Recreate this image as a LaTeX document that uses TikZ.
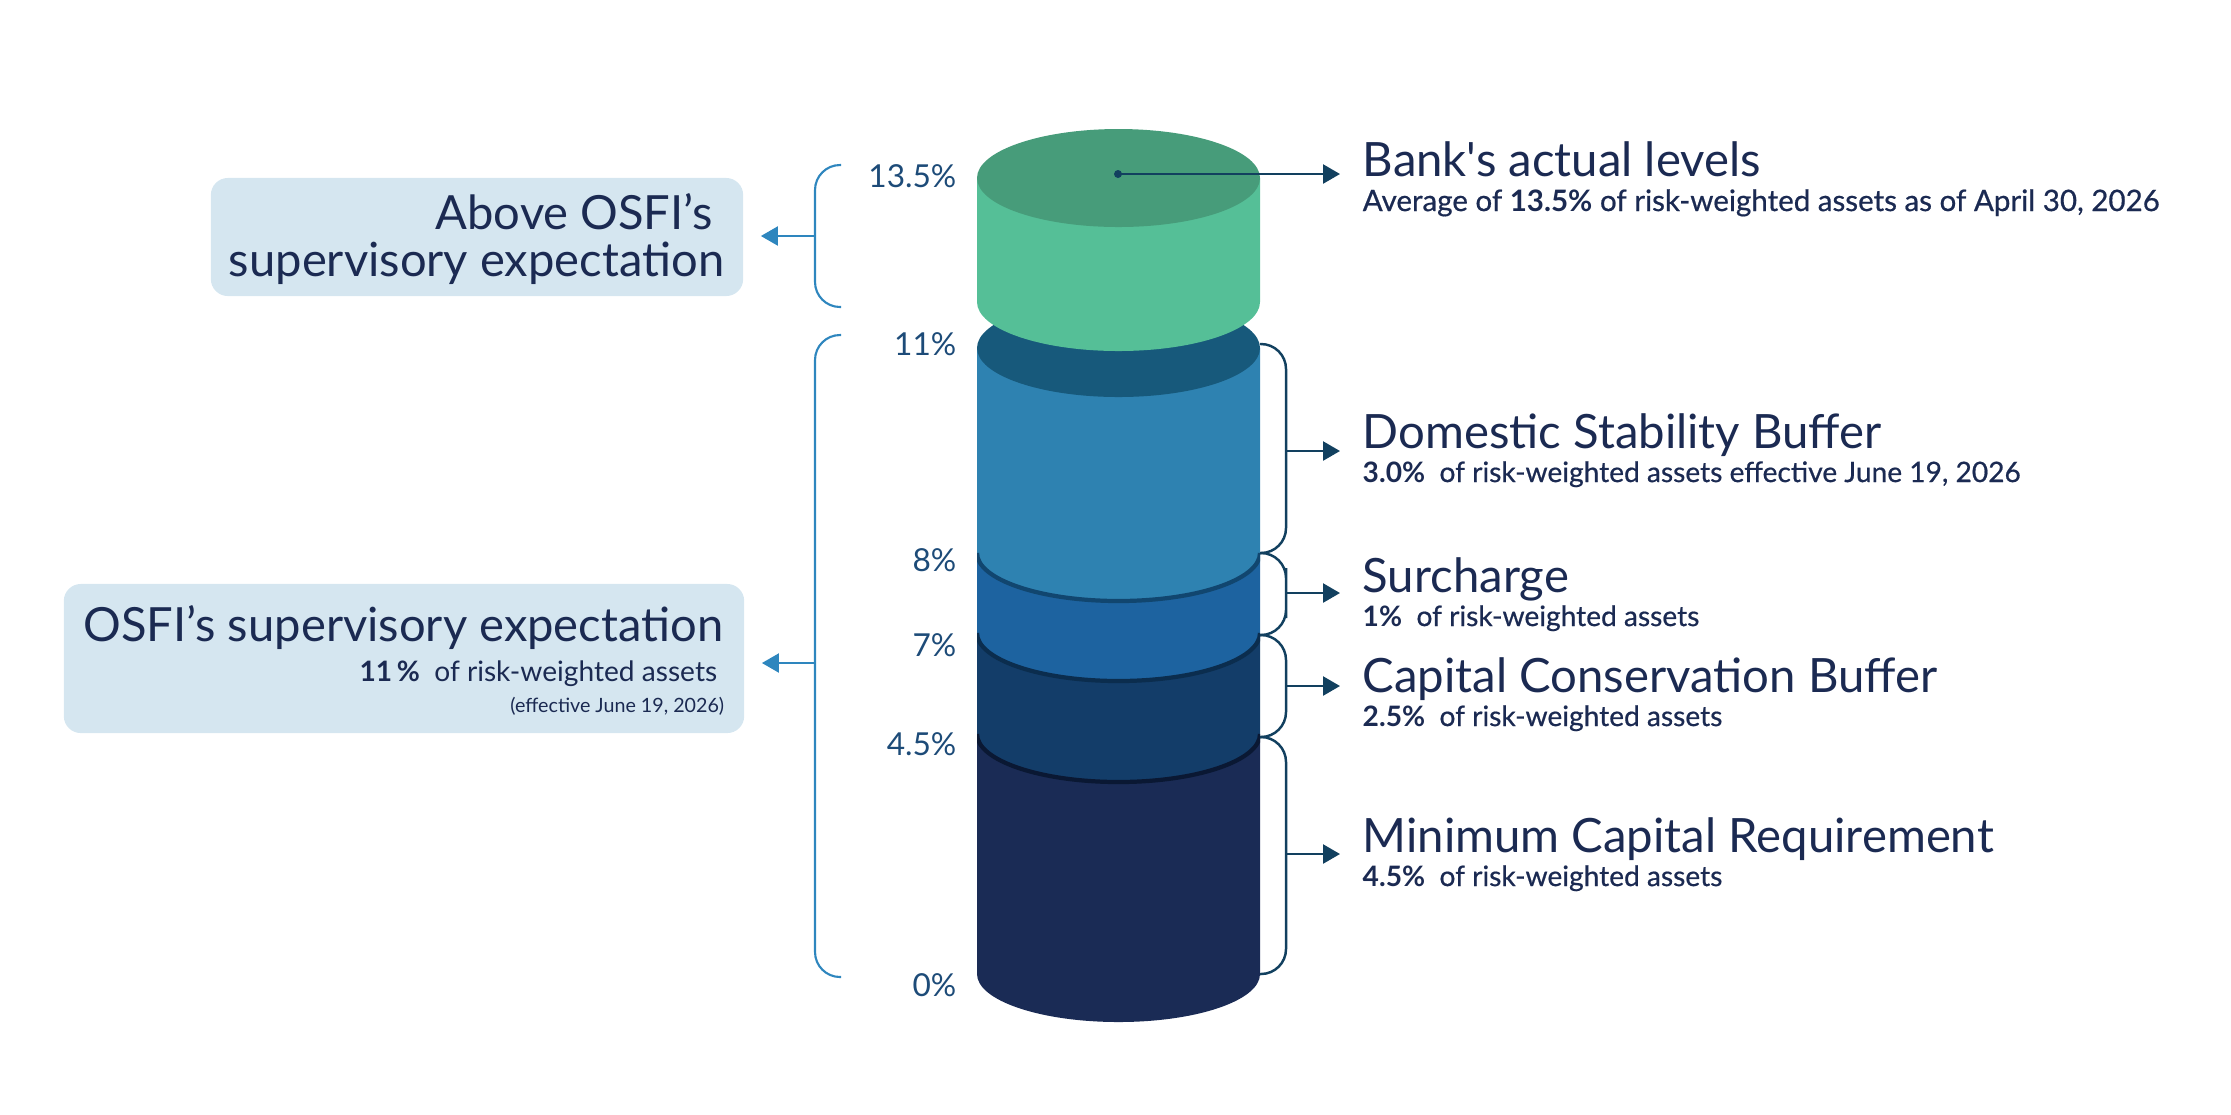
\documentclass[tikz,border=0pt]{standalone}
\usepackage{fontspec}
\setmainfont{Lato}[Ligatures=TeXOff]
\newfontface\latomed{Lato}[Ligatures=TeXOff, FakeBold=0.6]
\newcommand{\num}[1]{{\rmfamily\bfseries #1}}
\usetikzlibrary{arrows.meta, positioning, calc}

\definecolor{navy}{HTML}{1B2A52}
\definecolor{pctblue}{HTML}{1D4B78}
\definecolor{boxfill}{HTML}{D5E6F0}
\definecolor{lblue}{HTML}{2E86BE}
\definecolor{dteal}{HTML}{12405F}
\definecolor{grtop}{HTML}{479C7A}
\definecolor{grside}{HTML}{55BF97}
\definecolor{dsbtop}{HTML}{17597B}
\definecolor{dsbside}{HTML}{2E82B1}
\definecolor{dsbedge}{HTML}{11466F}
\definecolor{surside}{HTML}{1D63A0}
\definecolor{suredge}{HTML}{0B2D4E}
\definecolor{ccbside}{HTML}{133D69}
\definecolor{ccbedge}{HTML}{0A1833}
\definecolor{mcrside}{HTML}{1A2B55}

\begin{document}
\begin{tikzpicture}[
        x=0.01cm, y=-0.01cm,
        title/.style={anchor=base west, inner xsep=0.22cm, inner ysep=0pt, text=navy, font=\fontsize{13.45}{15}\selectfont},
        sub/.style={anchor=base west, inner xsep=0.22cm, inner ysep=0pt, text=navy, font=\latomed\fontsize{8}{9}\selectfont},
        pct/.style={anchor=base east, inner sep=0pt, text=pctblue, font=\fontsize{9}{10}\selectfont},
        osfibox/.style={rectangle, rounded corners=0.17cm, fill=boxfill, inner sep=0pt},
        boxtext/.style={anchor=base east, inner sep=0pt, text=navy, font=\fontsize{13.4}{15}\selectfont},
        rbrace/.style={draw=dteal, line width=0.7pt, rounded corners=0.25cm},
        lbrace/.style={draw=lblue, line width=0.6pt, rounded corners=0.25cm},
        rarrow/.style={-{Triangle[length=0.17cm, width=0.19cm]}, line width=0.7pt, draw=dteal},
        larrow/.style={-{Triangle[length=0.17cm, width=0.19cm]}, line width=0.6pt, draw=lblue, shorten >=0.17cm},
        seam/.style={line width=1.2pt}
    ]
        \useasboundingbox (0,0) rectangle (2231,1114);

        % Cylinder, bottom layer first
        \begin{scope}
            \clip (977,0) rectangle (1260,1114);
            \fill[mcrside] (977,734) -- (977,974) arc[start angle=180, end angle=0, x radius=141.5, y radius=48] -- (1260,734) -- cycle;
            \fill[ccbside] (977,633) -- (977,734) arc[start angle=180, end angle=0, x radius=141.5, y radius=48] -- (1260,633) -- cycle;
            \draw[seam, ccbedge] (977,734) arc[start angle=180, end angle=0, x radius=141.5, y radius=48];
            \fill[surside] (977,553) -- (977,633) arc[start angle=180, end angle=0, x radius=141.5, y radius=48] -- (1260,553) -- cycle;
            \draw[seam, suredge] (977,633) arc[start angle=180, end angle=0, x radius=141.5, y radius=48];
            \fill[dsbside] (977,348) -- (977,553) arc[start angle=180, end angle=0, x radius=141.5, y radius=48] -- (1260,348) -- cycle;
            \draw[seam, dsbedge] (977,553) arc[start angle=180, end angle=0, x radius=141.5, y radius=48];
        \end{scope}
        \fill[dsbtop] (1118.5,348) ellipse[x radius=141.5, y radius=49];

        % Bank's actual level on top
        \fill[grside] (977,178) -- (977,302) arc[start angle=180, end angle=0, x radius=141.5, y radius=49] -- (1260,178) -- cycle;
        \fill[grtop] (1118.5,178) ellipse[x radius=141.5, y radius=49];

        % Percent marks
        \node[pct] (p135) at (957,187) {13.5\%};
        \node[pct] (p11) at (957,355) {11\%};
        \node[pct] (p8) at (957,571) {8\%};
        \node[pct] (p7) at (957,656) {7\%};
        \node[pct] (p45) at (957,755) {4.5\%};
        \node[pct] (p0) at (957,996) {0\%};

        % Right labels
        \node[title] (bank) at (1340,176) {Bank's actual levels};
        \node[sub, font=\latomed\fontsize{8.4}{9}\selectfont] (banksub) at ([yshift=-0.35cm]bank.base west) {Average of \num{13.5\%} of risk-weighted assets as of April 30, 2026};
        \node[title] (dsb) at (1340,448) {Domestic Stability Buffer};
        \node[sub] (dsbsub) at ([yshift=-0.34cm]dsb.base west) {\num{3.0\%}\ \ of risk-weighted assets effective June 19, 2026};
        \node[title] (sur) at (1340,592) {Surcharge};
        \node[sub] (sursub) at ([yshift=-0.34cm]sur.base west) {\num{1\%}\ \ of risk-weighted assets};
        \node[title] (ccb) at (1340,692) {Capital Conservation Buffer};
        \node[sub] (ccbsub) at ([yshift=-0.34cm]ccb.base west) {\num{2.5\%}\ \ of risk-weighted assets};
        \node[title] (mcr) at (1340,852) {Minimum Capital Requirement};
        \node[sub] (mcrsub) at ([yshift=-0.34cm]mcr.base west) {\num{4.5\%}\ \ of risk-weighted assets};

        % Right brackets
        \coordinate (dsbmid) at (1286,451);
        \coordinate (surmid) at (1286,593);
        \coordinate (ccbmid) at (1286,686);
        \coordinate (mcrmid) at (1286,854);
        \draw[rbrace] (1260,344) -| (dsbmid) |- (1260,553);
        \draw[rbrace] (1260,553) -| (surmid) |- (1260,635);
        \draw[rbrace] (1260,635) -| (ccbmid) |- (1260,737);
        \draw[rbrace] (1260,737) -| (mcrmid) |- (1260,974);

        % Connections
        \coordinate (dot) at (1118,174);
        \fill[dteal] (dot) circle[radius=4];
        \draw[rarrow] (dot) -- (dot -| bank.west);
        \draw[rarrow] (dsbmid) -- (dsbmid -| dsb.west);
        \draw[rarrow] (surmid) -- (surmid -| sur.west);
        \draw[rarrow] (ccbmid) -- (ccbmid -| ccb.west);
        \draw[rarrow] (mcrmid) -- (mcrmid -| mcr.west);

        % Left boxes
        \node[osfibox, minimum width=5.32cm, minimum height=1.18cm] (abovebox) at (477,237) {};
        \node[boxtext] (abovel1) at ([xshift=-0.30cm, yshift=-0.52cm]abovebox.north east) {Above OSFI’s};
        \node[boxtext] (abovel2) at ([xshift=-0.19cm, yshift=-0.99cm]abovebox.north east) {supervisory expectation};

        \node[osfibox, minimum width=6.8cm, minimum height=1.49cm] (expbox) at (404,658.5) {};
        \node[boxtext] (expl1) at ([xshift=-0.21cm, yshift=-0.58cm]expbox.north east) {OSFI’s supervisory expectation};
        \node[boxtext, font=\fontsize{8}{9}\selectfont] (expl2) at ([xshift=-0.27cm, yshift=-0.98cm]expbox.north east) {\num{11\,\%}\ \ of risk-weighted assets};
        \node[boxtext, font=\fontsize{5.6}{6}\selectfont] (expl3) at ([xshift=-0.20cm, yshift=-1.29cm]expbox.north east) {(effective June 19, 2026)};

        % Left brackets
        \coordinate (abovemid) at (815,236);
        \coordinate (expmid) at (815,663);
        \draw[lbrace] (841,165) -| (abovemid) |- (841,307);
        \draw[lbrace] (841,335) -| (expmid) |- (841,977);
        \draw[larrow] (abovemid) -- (abovemid -| abovebox.east);
        \draw[larrow] (expmid) -- (expmid -| expbox.east);
    \end{tikzpicture}
\end{document}
